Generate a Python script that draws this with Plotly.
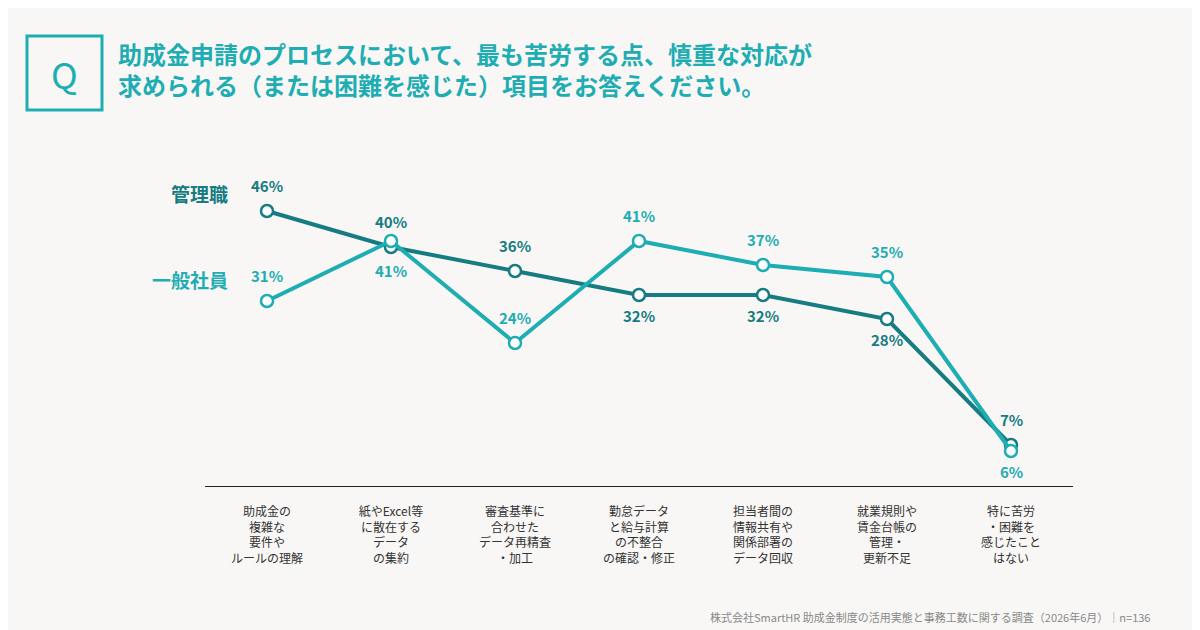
import plotly.graph_objects as go

categories = ["助成金の<br>複雑な<br>要件や<br>ルールの理解", "紙やExcel等<br>に散在する<br>データ<br>の集約",
              "審査基準に<br>合わせた<br>データ再精査<br>・加工", "勤怠データ<br>と給与計算<br>の不整合<br>の確認・修正",
              "担当者間の<br>情報共有や<br>関係部署の<br>データ回収", "就業規則や<br>賃金台帳の<br>管理・<br>更新不足",
              "特に苦労<br>・困難を<br>感じたこと<br>はない"]
manager = [46, 40, 36, 32, 32, 28, 7]
staff = [31, 41, 24, 41, 37, 35, 6]
# label offset direction: 1 above, -1 below
manager_dir = [1, 1, 1, -1, -1, -1, 1]
staff_dir = [1, -1, 1, 1, 1, 1, -1]

dark = "#167c82"
light = "#1eadb3"
x = list(range(len(categories)))

fig = go.Figure()
anns = []
for vals, dirs, col in [(manager, manager_dir, dark), (staff, staff_dir, light)]:
    fig.add_trace(go.Scatter(
        x=x, y=vals, mode="lines+markers",
        line=dict(color=col, width=4),
        marker=dict(size=12, color="white", line=dict(color=col, width=2.5)),
        cliponaxis=False, showlegend=False, hoverinfo="skip"))
    for xi, v, d in zip(x, vals, dirs):
        anns.append(dict(x=xi, y=v, text=f"<b>{v}%</b>", showarrow=False, yshift=26 * d if d > 0 else -20,
                         font=dict(size=15, color=col)))
# the 41% under the 40% point sits lower
anns[7 + 1]["yshift"] = -29

S = 300.0
W = 868.0
fig.update_layout(
    width=1200, height=630, paper_bgcolor="#f8f7f5", plot_bgcolor="#f8f7f5",
    margin=dict(l=197, r=135, t=179, b=151),
    font=dict(family="Noto Sans CJK JP", color="#333"),
    xaxis=dict(range=[-0.5, 6.5], tickvals=x, ticktext=categories, showgrid=False,
               zeroline=False, showline=False, tickfont=dict(size=12, color="#333"),
               ticks="", ticklabelstandoff=16),
    yaxis=dict(range=[0, 50], visible=False),
    shapes=[
        dict(type="line", xref="paper", yref="y", x0=0, x1=1, y0=0, y1=0,
             line=dict(color="#222", width=2)),
        dict(type="rect", xref="paper", yref="paper", x0=(27 - 205) / W, x1=(102 - 205) / W,
             y0=(487 - 110) / S, y1=(487 - 36) / S,
             line=dict(color=light, width=3), fillcolor="rgba(0,0,0,0)"),
    ],
    annotations=anns + [
        dict(text="Q", xref="paper", yref="paper", x=(64.5 - 205) / W, y=(487 - 73) / S,
             xanchor="center", yanchor="middle",
             showarrow=False, font=dict(size=36, color=light, family="Noto Sans CJK JP")),
        dict(text="<b>助成金申請のプロセスにおいて、最も苦労する点、慎重な対応が<br>求められる（または困難を感じた）項目をお答えください。</b>",
             xref="paper", yref="paper", x=(116 - 205) / W, y=(487 - 34) / S, xanchor="left", yanchor="top",
             align="left", showarrow=False, font=dict(size=24, color=light, family="Noto Sans CJK JP")),
        dict(text="<b>管理職</b>", xref="paper", yref="paper", x=(230 - 205) / W, y=(487 - 193) / S,
             xanchor="right", yanchor="middle", showarrow=False, font=dict(size=19, color=dark)),
        dict(text="<b>一般社員</b>", xref="paper", yref="paper", x=(230 - 205) / W, y=(487 - 279) / S,
             xanchor="right", yanchor="middle", showarrow=False, font=dict(size=19, color=light)),
        dict(text="株式会社SmartHR 助成金制度の活用実態と事務工数に関する調査（2026年6月）｜n=136",
             xref="paper", yref="paper", x=(1152 - 205) / W, y=(487 - 617) / S, xanchor="right",
             yanchor="middle", showarrow=False, font=dict(size=11, color="#888")),
    ],
)
fig.write_html("out.html")
